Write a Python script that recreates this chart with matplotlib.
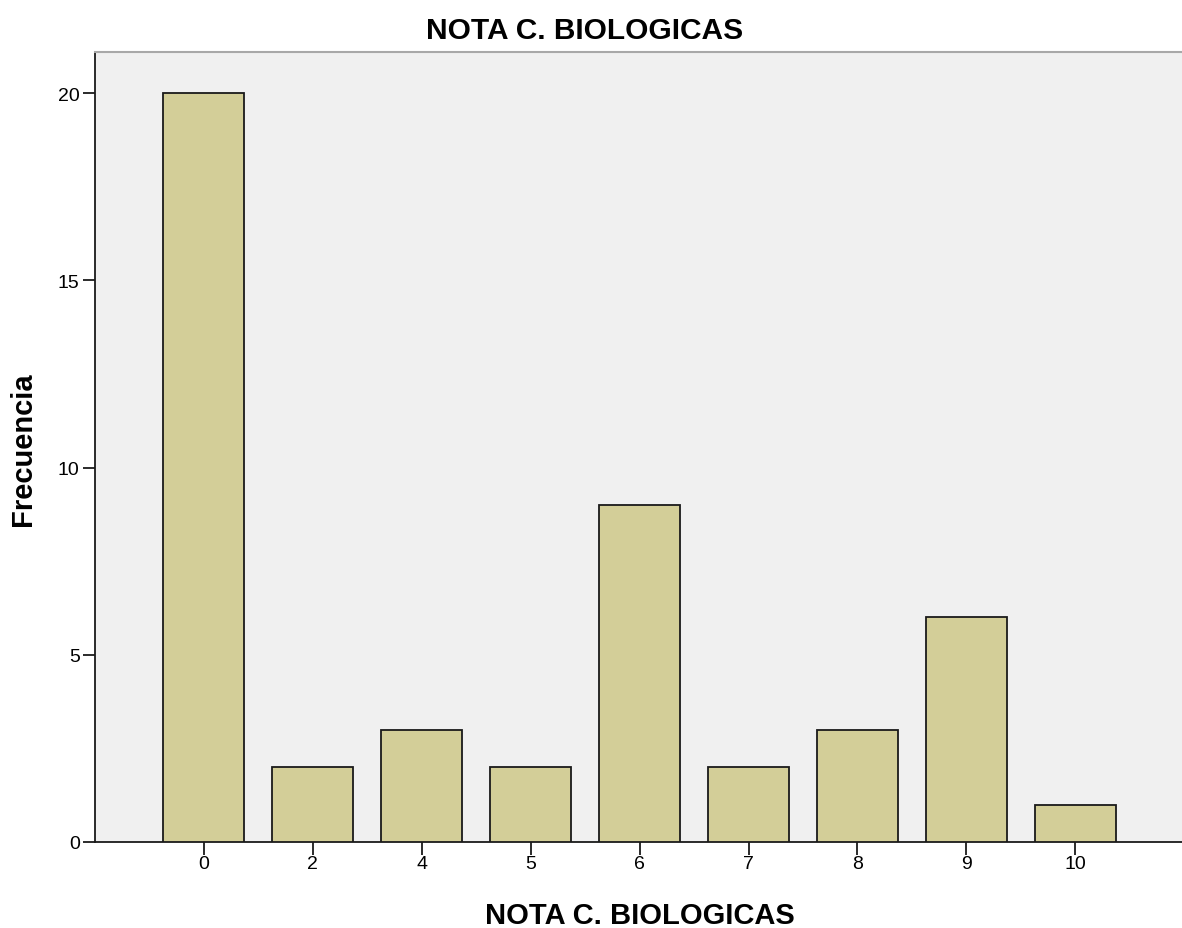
import matplotlib
matplotlib.use("Agg")
import matplotlib.pyplot as plt
import numpy as np

categories = ["0", "2", "4", "5", "6", "7", "8", "9", "10"]
frequencies = [20, 2, 3, 2, 9, 2, 3, 6, 1]
y_ticks = [0, 5, 10, 15, 20]

plt.rcParams['font.family'] = ['Liberation Sans', 'DejaVu Sans']
fig = plt.figure(figsize=(11.82, 9.29), dpi=100)
ax = fig.add_axes([95/1182, (929-843)/929, 1 - 95/1182, (843-53)/929])
ax.set_facecolor("#F0F0F0")
x = np.arange(len(categories))
ax.bar(x, frequencies, width=0.745, color="#D3CE98", edgecolor="#1a1a1a", linewidth=1.3, zorder=3)
ax.set_xlim(-1, len(categories) - 0.02)
ax.set_ylim(0, 21.1)
ax.set_xticks(x)
ax.set_xticklabels(categories, fontsize=14)
ax.set_yticks(y_ticks)
ax.set_yticklabels([str(v) for v in y_ticks], fontsize=14)
ax.tick_params(axis="x", direction="out", length=9, width=1.3, color="#1a1a1a", pad=0.5)
ax.tick_params(axis="y", direction="out", length=9, width=1.3, color="#1a1a1a", pad=2)
for s in ["left", "bottom"]:
    ax.spines[s].set_color("#1a1a1a")
    ax.spines[s].set_linewidth(1.3)
ax.spines["top"].set_color("#A8A8A8")
ax.spines["top"].set_linewidth(1.5)
ax.spines["right"].set_visible(False)
fig.text(585/1182, 1 - 39/929, "NOTA C. BIOLOGICAS", fontsize=21.5, fontweight="bold",
         ha="center", va="baseline")
fig.text(640/1182, 1 - 924/929, "NOTA C. BIOLOGICAS", fontsize=21, fontweight="bold",
         ha="center", va="baseline")
fig.text(23/1182, 1 - 449/929, "Frecuencia", fontsize=21, fontweight="bold",
         ha="center", va="center", rotation=90)
fig.savefig("out.png", dpi=100)
